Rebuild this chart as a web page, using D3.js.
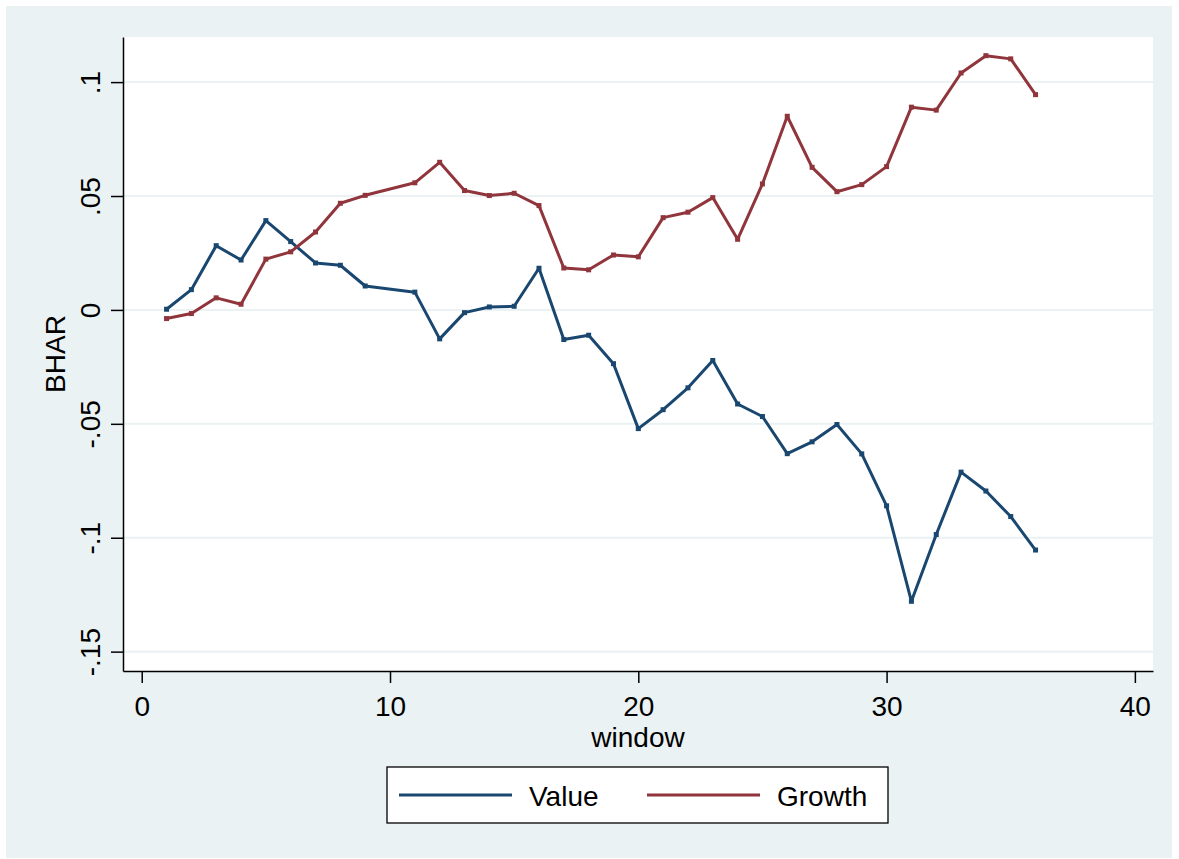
<!DOCTYPE html>
<html>
<head>
<meta charset="utf-8">
<script src="https://cdn.jsdelivr.net/npm/d3@7"></script>
<style>
  body { margin: 0; background: #fff; }
  text { font-family: "Liberation Sans", Arial, sans-serif; fill: #000; }
</style>
</head>
<body>
<div id="chart"></div>
<script>
'use strict';

// window 10 is missing in the source, the line just joins 9 and 11
const windows = [1, 2, 3, 4, 5, 6, 7, 8, 9, 11, 12, 13, 14, 15, 16, 17, 18, 19, 20,
  21, 22, 23, 24, 25, 26, 27, 28, 29, 30, 31, 32, 33, 34, 35, 36];

const valueBhar = [0.0003, 0.0089, 0.0282, 0.0219, 0.0392, 0.0300, 0.0206, 0.0196, 0.0105,
  0.0078, -0.0127, -0.0012, 0.0013, 0.0016, 0.0183, -0.0130, -0.0111, -0.0236, -0.0521,
  -0.0438, -0.0342, -0.0222, -0.0413, -0.0468, -0.0631, -0.0579, -0.0503, -0.0632, -0.0860,
  -0.1279, -0.0986, -0.0712, -0.0795, -0.0907, -0.1054];

const growthBhar = [-0.0038, -0.0016, 0.0053, 0.0025, 0.0223, 0.0255, 0.0342, 0.0468, 0.0503,
  0.0558, 0.0648, 0.0524, 0.0502, 0.0512, 0.0458, 0.0184, 0.0176, 0.0241, 0.0233,
  0.0405, 0.0429, 0.0493, 0.0310, 0.0553, 0.0850, 0.0626, 0.0519, 0.0550, 0.0629,
  0.0890, 0.0877, 0.1040, 0.1116, 0.1102, 0.0945];

const seriesNames = ['Value', 'Growth'];
const seriesColors = ['#1a476f', '#90353b'];

const xTicks = [0, 10, 20, 30, 40];
const yTicks = [0.1, 0.05, 0, -0.05, -0.1, -0.15];
const yTickLabels = ['.1', '.05', '0', '-.05', '-.1', '-.15'];

let width = 1179,
    height = 859,
    plot = { left: 123, right: 1153, top: 37, bottom: 671 };

let svg = d3.select('#chart')
  .append('svg')
    .attr('width', width)
    .attr('height', height);

svg.append('rect')
  .attr('x', 6).attr('y', 6)
  .attr('width', width - 13).attr('height', height - 7)
  .attr('fill', '#eaf2f3');

svg.append('rect')
  .attr('x', plot.left).attr('y', plot.top)
  .attr('width', plot.right - plot.left).attr('height', plot.bottom - plot.top)
  .attr('fill', '#fff');

let x = d3.scaleLinear()
  .domain([-0.754, 40.73])
  .range([plot.left, plot.right]);

let y = d3.scaleLinear()
  .domain([-0.1585, 0.1198])
  .range([plot.bottom, plot.top]);

// grid
svg.append('g')
  .selectAll('line')
  .data(yTicks)
  .enter().append('line')
    .attr('x1', plot.left).attr('x2', plot.right)
    .attr('y1', d => y(d)).attr('y2', d => y(d))
    .attr('stroke', '#eaf2f3')
    .attr('stroke-width', 2);

// axes
let xAxis = svg.append('g')
  .attr('transform', 'translate(0,' + plot.bottom + ')')
  .call(d3.axisBottom(x).tickValues(xTicks).tickSize(12).tickPadding(13).tickSizeOuter(0));

xAxis.select('.domain').attr('stroke', '#000').attr('stroke-width', 1.5);
xAxis.selectAll('.tick line').attr('stroke', '#000').attr('stroke-width', 1.5);
xAxis.selectAll('.tick text')
  .attr('font-size', 28)
  .attr('font-family', '"Liberation Sans", Arial, sans-serif')
  .attr('fill', '#000');

let yAxis = svg.append('g')
  .attr('transform', 'translate(' + plot.left + ',0)')
  .call(d3.axisLeft(y).tickValues(yTicks).tickSize(12).tickSizeOuter(0)
    .tickFormat((d, i) => yTickLabels[i]));

yAxis.select('.domain').attr('stroke', '#000').attr('stroke-width', 1.5);
yAxis.selectAll('.tick line').attr('stroke', '#000').attr('stroke-width', 1.5);
yAxis.selectAll('.tick text')
  .attr('font-size', 28)
  .attr('font-family', '"Liberation Sans", Arial, sans-serif')
  .attr('fill', '#000')
  .attr('x', null).attr('dy', null)
  .attr('text-anchor', 'middle')
  .attr('transform', 'translate(-23,0) rotate(-90)');

svg.append('text')
  .attr('x', (plot.left + plot.right) / 2)
  .attr('y', 747)
  .attr('text-anchor', 'middle')
  .attr('font-size', 28)
  .text('window');

svg.append('text')
  .attr('transform', 'translate(65,' + ((plot.top + plot.bottom) / 2) + ') rotate(-90)')
  .attr('text-anchor', 'middle')
  .attr('font-size', 28)
  .text('BHAR');

// series
let series = [valueBhar, growthBhar].map((vals, i) => {
  return windows.map((w, j) => ({ w: w, v: vals[j] }));
});

let line = d3.line()
  .x(d => x(d.w))
  .y(d => y(d.v));

series.map((pts, i) => {
  svg.append('path')
    .datum(pts)
    .attr('d', line)
    .attr('fill', 'none')
    .attr('stroke', seriesColors[i])
    .attr('stroke-width', 3)
    .attr('stroke-linejoin', 'round');

  svg.append('g')
    .selectAll('rect')
    .data(pts)
    .enter().append('rect')
      .attr('x', d => x(d.w) - 2.5)
      .attr('y', d => y(d.v) - 2.5)
      .attr('width', 5).attr('height', 5)
      .attr('fill', seriesColors[i]);
});

// legend
let legend = svg.append('g');

legend.append('rect')
  .attr('x', 387).attr('y', 767)
  .attr('width', 501).attr('height', 56)
  .attr('fill', '#fff')
  .attr('stroke', '#000')
  .attr('stroke-width', 1.3);

let legendX = [399, 647];

seriesNames.map((name, i) => {
  legend.append('line')
    .attr('x1', legendX[i]).attr('x2', legendX[i] + 113)
    .attr('y1', 795).attr('y2', 795)
    .attr('stroke', seriesColors[i])
    .attr('stroke-width', 3);

  legend.append('text')
    .attr('x', legendX[i] + 130)
    .attr('y', 806)
    .attr('font-size', 28)
    .text(name);
});
</script>
</body>
</html>
